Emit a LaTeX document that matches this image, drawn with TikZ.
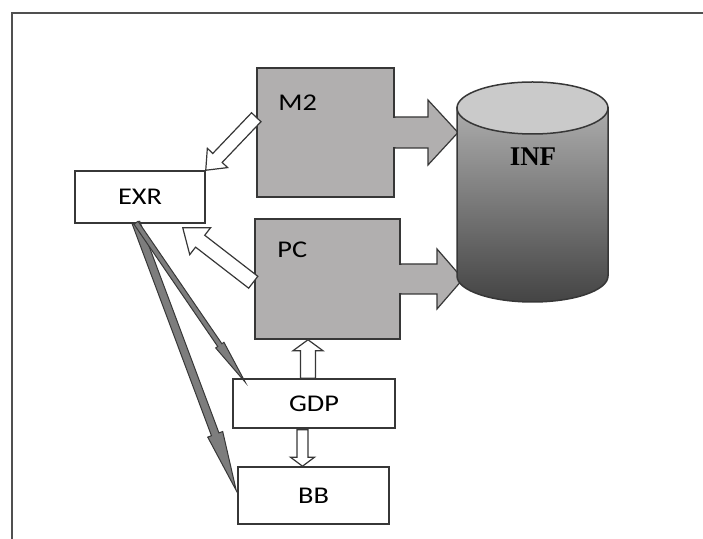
\documentclass[tikz,border=0pt]{standalone}
\usepackage{fontspec}
\setmainfont{Carlito}[FakeStretch=1.18]
\newfontfamily\inffont{Liberation Serif}
\usetikzlibrary{calc}

\definecolor{boxgray}{RGB}{177,175,175}
\definecolor{linegray}{RGB}{55,55,55}
\definecolor{framegray}{RGB}{80,80,80}
\definecolor{arrgray}{RGB}{125,125,125}
\definecolor{captop}{RGB}{202,202,202}
\definecolor{bodytop}{RGB}{172,172,172}
\definecolor{bodybot}{RGB}{68,68,68}

% #1 style, #2 tail, #3 tip, #4 half shaft, #5 half head, #6 head length
\newcommand{\blockarrow}[6][]{%
  \coordinate (ba-h) at ($(#3)!#6!(#2)$);
  \draw[#1] ($(#2)!#4!90:(#3)$) -- ($(ba-h)!#4!-90:(#2)$) -- ($(ba-h)!#5!-90:(#2)$)
    -- (#3) -- ($(ba-h)!#5!90:(#2)$) -- ($(ba-h)!#4!90:(#2)$) -- ($(#2)!#4!-90:(#3)$) -- cycle;
}

\begin{document}
\begin{tikzpicture}[x=0.5pt,y=-0.5pt,
    wbox/.style={draw=linegray,line width=0.75pt,fill=white,inner sep=0pt,font=\fontsize{12}{14}\selectfont},
    gbox/.style={draw=linegray,line width=0.75pt,fill=boxgray,inner sep=0pt},
    tag/.style={anchor=west,inner sep=0pt,font=\fontsize{12}{14}\selectfont},
    hollow/.style={draw=linegray,line width=0.6pt,fill=white},
    solid/.style={draw=linegray,line width=0.6pt,fill=boxgray},
    slim/.style={draw=linegray,line width=0.5pt,fill=arrgray}]
  \useasboundingbox (0,0) rectangle (703,539);

  % frame
  \draw[framegray,line width=1pt] (703,13) -- (12,13) -- (12,539);

  % grey boxes
  \node[gbox,minimum width=68.5pt,minimum height=64.5pt] (m2) at (325.5,132.5) {};
  \node[gbox,minimum width=72.5pt,minimum height=60pt] (pc) at (327.5,279) {};
  \node[tag] (m2-t) at (278,103) {M2};
  \node[tag] (pc-t) at (277,250) {PC};

  % grey arrows into INF
  \coordinate (m2-o) at (m2.east);
  \coordinate (m2-i) at (458,132.5);
  \blockarrow[solid]{m2-o}{m2-i}{7.75pt}{16.25pt}{15pt}
  \fill[boxgray] ($(m2.east)+(-2,-14.7)$) rectangle ($(m2.east)+(1.5,14.7)$);
  \coordinate (pc-o) at (pc.east);
  \coordinate (pc-i) at (463,279);
  \blockarrow[solid]{pc-o}{pc-i}{7.5pt}{15pt}{13pt}
  \fill[boxgray] ($(pc.east)+(-2,-14.2)$) rectangle ($(pc.east)+(1.5,14.2)$);

  % INF
  \shade[top color=bodytop,bottom color=bodybot,draw=linegray,line width=0.75pt]
    (457,108) -- (457,276) arc[start angle=180,end angle=0,x radius=75.5,y radius=26]
    -- (608,108) -- cycle;
  \filldraw[fill=captop,draw=linegray,line width=0.75pt]
    (532.5,108) ellipse[x radius=75.5,y radius=26];
  \node (inf) at (533,157) {\inffont\bfseries\fontsize{13.5}{16}\selectfont INF};

  % white boxes
  \node[wbox,minimum width=65pt,minimum height=26pt] (exr) at (140,197) {EXR};
  \node[wbox,minimum width=81pt,minimum height=24.5pt] (gdp) at (314,403.5) {GDP};
  \node[wbox,minimum width=75.5pt,minimum height=28.5pt] (bb) at (313.5,495.5) {BB};

  % hollow arrows
  \coordinate (m2-l) at ($(m2.north west)+(0,50)$);
  \blockarrow[hollow]{m2-l}{exr.north east}{3.25pt}{7pt}{8.5pt}
  \coordinate (pc-l) at ($(pc.north west)+(-1,64)$);
  \coordinate (exr-r) at ($(exr.south east)+(-23,4)$);
  \blockarrow[hollow]{pc-l}{exr-r}{3.75pt}{8.5pt}{11pt}
  \coordinate (gdp-u) at ($(gdp.north)+(-6,0)$);
  \coordinate (pc-d) at ($(pc.south)+(-19.5,0)$);
  \blockarrow[hollow]{gdp-u}{pc-d}{3.75pt}{7.5pt}{5.5pt}
  \coordinate (gdp-d) at ($(gdp.south)+(-11.5,1)$);
  \coordinate (bb-u) at ($(bb.north)+(-11,0)$);
  \blockarrow[hollow]{gdp-d}{bb-u}{2.75pt}{6pt}{4.5pt}

  % slim arrows out of EXR
  \coordinate (exr-s) at ($(exr.south)+(-4,-1)$);
  \coordinate (gdp-l) at ($(gdp.north west)+(13,4)$);
  \coordinate (bb-l) at ($(bb.west)+(-1,-5)$);
  \blockarrow[slim]{exr-s}{bb-l}{2pt}{4pt}{30pt}
  \blockarrow[slim]{exr-s}{gdp-l}{1.25pt}{2.5pt}{22.5pt}
\end{tikzpicture}
\end{document}
